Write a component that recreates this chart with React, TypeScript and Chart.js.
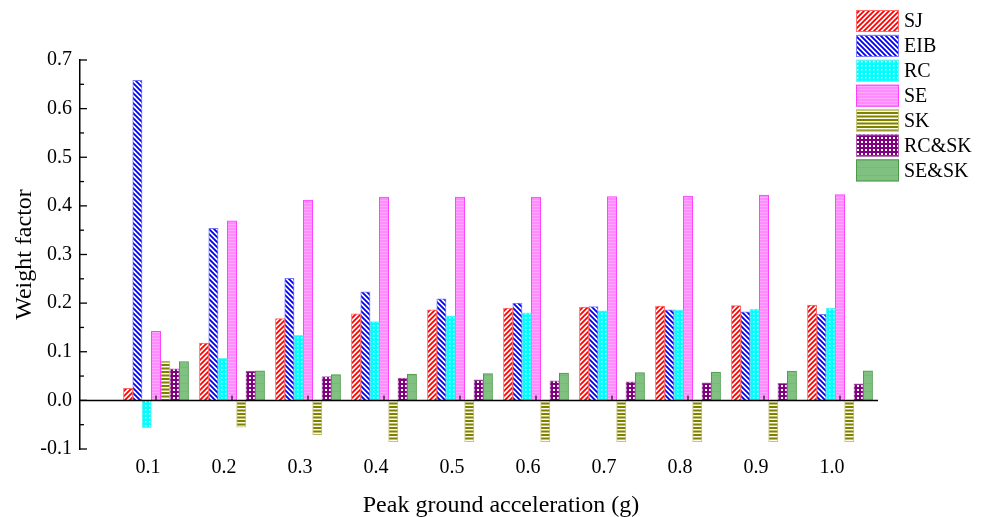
import React, { useEffect, useRef } from "react";
import { Chart, registerables } from "chart.js";

Chart.register(...registerables);

const categories = ["0.1", "0.2", "0.3", "0.4", "0.5", "0.6", "0.7", "0.8", "0.9", "1.0"];
const seriesNames = ["SJ", "EIB", "RC", "SE", "SK", "RC&SK", "SE&SK"];
const sjValues = [0.025, 0.118, 0.168, 0.178, 0.186, 0.19, 0.192, 0.194, 0.195, 0.196];
const eibValues = [0.658, 0.354, 0.251, 0.223, 0.209, 0.2, 0.193, 0.186, 0.182, 0.177];
const rcValues = [-0.056, 0.087, 0.134, 0.162, 0.174, 0.18, 0.184, 0.186, 0.188, 0.19];
const seValues = [0.142, 0.369, 0.412, 0.418, 0.418, 0.418, 0.419, 0.42, 0.422, 0.423];
const skValues = [0.081, -0.055, -0.071, -0.085, -0.085, -0.085, -0.085, -0.085, -0.085, -0.085];
const rcskValues = [0.065, 0.06, 0.049, 0.046, 0.042, 0.04, 0.038, 0.036, 0.035, 0.034];
const seskValues = [0.08, 0.061, 0.053, 0.054, 0.055, 0.056, 0.057, 0.058, 0.06, 0.061];
const yTickValues = [-0.1, 0, 0.1, 0.2, 0.3, 0.4, 0.5, 0.6, 0.7];

const FONT = "'Liberation Serif', 'Times New Roman', serif";

function makePattern(w: number, h: number, draw: (c: CanvasRenderingContext2D) => void) {
  const cv = document.createElement("canvas");
  cv.width = w;
  cv.height = h;
  const c = cv.getContext("2d")!;
  draw(c);
  const ctx = document.createElement("canvas").getContext("2d")!;
  return ctx.createPattern(cv, "repeat")!;
}

function buildStyles() {
  const sj = makePattern(5, 5, (c) => {
    c.fillStyle = "#ffffff";
    c.fillRect(0, 0, 5, 5);
    c.strokeStyle = "#ff0000";
    c.lineWidth = 1.8;
    c.beginPath();
    c.moveTo(-1, 6); c.lineTo(6, -1);
    c.moveTo(-1, 1); c.lineTo(1, -1);
    c.moveTo(4, 6); c.lineTo(6, 4);
    c.stroke();
  });
  const eib = makePattern(5, 5, (c) => {
    c.fillStyle = "#ffffff";
    c.fillRect(0, 0, 5, 5);
    c.strokeStyle = "#0000ee";
    c.lineWidth = 1.8;
    c.beginPath();
    c.moveTo(-1, -1); c.lineTo(6, 6);
    c.moveTo(4, -1); c.lineTo(6, 1);
    c.moveTo(-1, 4); c.lineTo(1, 6);
    c.stroke();
  });
  const rc = makePattern(4, 4, (c) => {
    c.fillStyle = "#00ffff";
    c.fillRect(0, 0, 4, 4);
    c.fillStyle = "#ffffff";
    c.fillRect(1, 1, 1.5, 1.5);
  });
  const se = makePattern(4, 3, (c) => {
    c.fillStyle = "#ff8cff";
    c.fillRect(0, 0, 4, 3);
    c.fillStyle = "#ffa8ff";
    c.fillRect(0, 2, 4, 1);
  });
  const sk = makePattern(4, 7, (c) => {
    const rows = ["#808000", "#808000", "#fcfcee", "#bebe77", "#808000", "#bebe77", "#fcfcee"];
    rows.forEach((col, r) => {
      c.fillStyle = col;
      c.fillRect(0, r, 4, 1);
    });
  });
  const rcsk = makePattern(4, 4, (c) => {
    c.fillStyle = "#800080";
    c.fillRect(0, 0, 4, 4);
    c.fillStyle = "#ffffff";
    c.fillRect(1, 1, 2, 2);
  });
  const sesk = makePattern(8, 8, (c) => {
    c.fillStyle = "#80c080";
    c.fillRect(0, 0, 8, 8);
    c.fillStyle = "#78b878";
    c.fillRect(0, 7, 8, 1);
  });
  return {
    fills: [sj, eib, rc, se, sk, rcsk, sesk],
    borders: ["#ff6a6a", "#7a7aff", "#6ff2f2", "#ff40ff", "#c6c67a", "#a860a8", "#4a9a4a"],
  };
}

const decorPlugin = {
  id: "decor",
  afterDatasetsDraw(chart: any) {
    const { ctx, chartArea, scales } = chart;
    const xs = scales.x;
    const ys = scales.y;
    ctx.save();
    const y0 = ys.getPixelForValue(0);
    ctx.strokeStyle = "#000";
    ctx.lineWidth = 1.5;
    ctx.beginPath();
    ctx.moveTo(chartArea.left, y0);
    ctx.lineTo(chartArea.right, y0);
    ctx.stroke();
    ctx.strokeStyle = "#2a1a2a";
    ctx.lineWidth = 1.3;
    categories.forEach((c) => {
      const px = xs.getPixelForValue(parseFloat(c));
      ctx.beginPath();
      ctx.moveTo(px, y0);
      ctx.lineTo(px, y0 - 5);
      ctx.stroke();
    });
    ctx.strokeStyle = "#000";
    ctx.lineWidth = 1.3;
    yTickValues.forEach((v, i) => {
      const py = ys.getPixelForValue(v);
      ctx.beginPath();
      ctx.moveTo(chartArea.left, py);
      ctx.lineTo(chartArea.left + 7, py);
      ctx.stroke();
      if (i < yTickValues.length - 1) {
        const pm = ys.getPixelForValue(v + 0.05);
        ctx.beginPath();
        ctx.moveTo(chartArea.left, pm);
        ctx.lineTo(chartArea.left + 4, pm);
        ctx.stroke();
      }
    });
    ctx.restore();
  },
  afterDraw(chart: any) {
    const { ctx } = chart;
    ctx.save();
    // legend
    ctx.font = `20px ${FONT}`;
    ctx.textBaseline = "middle";
    ctx.textAlign = "left";
    chart.data.datasets.forEach((ds: any, i: number) => {
      const top = 10 + i * 24.9;
      ctx.fillStyle = ds.backgroundColor;
      ctx.fillRect(856, top, 43, 22);
      ctx.strokeStyle = ds.borderColor;
      ctx.lineWidth = 1;
      ctx.strokeRect(856.5, top + 0.5, 42, 21);
      ctx.fillStyle = "#000";
      ctx.fillText(ds.label, 904, top + 12);
    });
    // x title
    ctx.font = `24px ${FONT}`;
    ctx.textAlign = "center";
    ctx.textBaseline = "alphabetic";
    ctx.fillStyle = "#000";
    ctx.fillText("Peak ground acceleration (g)", 501, 512);
    ctx.restore();
  },
};

export default function App() {
  const ref = useRef<HTMLCanvasElement | null>(null);
  useEffect(() => {
    if (!ref.current) return;
    Chart.defaults.font.family = FONT;
    Chart.defaults.color = "#000";
    const { fills, borders } = buildStyles();
    const all = [sjValues, eibValues, rcValues, seValues, skValues, rcskValues, seskValues];
    const datasets = all.map((vals, i) => ({
      label: seriesNames[i],
      data: categories.map((c, j) => ({ x: parseFloat(c), y: vals[j] })),
      backgroundColor: fills[i],
      borderColor: borders[i],
      borderWidth: 1,
      barThickness: 9.3,
    }));
    const chart = new Chart(ref.current, {
      type: "bar",
      data: { datasets } as any,
      options: {
        animation: false,
        responsive: false,
        layout: { padding: { top: 60, right: 108, left: 0, bottom: 0 } },
        plugins: { legend: { display: false }, tooltip: { enabled: false } },
        scales: {
          x: {
            type: "linear",
            min: 0,
            max: 1.05,
            offset: false,
            grid: { display: false, drawTicks: false, offset: false },
            border: { display: false },
            afterBuildTicks: (axis: any) => {
              axis.ticks = categories.map((c) => ({ value: parseFloat(c) }));
            },
            afterFit: (scale: any) => {
              scale.height = 68;
            },
            ticks: {
              autoSkip: false,
              maxRotation: 0,
              padding: 7,
              labelOffset: -8,
              font: { size: 20, family: FONT },
              color: "#000",
              callback: (_v: any, i: number) => categories[i],
            },
          },
          y: {
            min: -0.1,
            max: 0.7,
            grid: { display: false, drawTicks: false },
            border: { display: true, color: "#000", width: 1.5 },
            afterBuildTicks: (axis: any) => {
              axis.ticks = yTickValues.map((v) => ({ value: v }));
            },
            afterFit: (scale: any) => {
              scale.width = 80;
            },
            ticks: {
              padding: 8,
              font: { size: 20, family: FONT },
              color: "#000",
              callback: (v: any) => Number(v).toFixed(1),
            },
            title: {
              display: true,
              text: "Weight factor",
              font: { size: 24, family: FONT },
              color: "#000",
              padding: { top: 10, bottom: 0 },
            },
          },
        },
      } as any,
      plugins: [decorPlugin],
    });
    return () => chart.destroy();
  }, []);
  return (
    <div style={{ position: "absolute", left: 0, top: 0, width: 986, height: 517, background: "#fff" }}>
      <canvas ref={ref} width={986} height={517} style={{ display: "block" }} />
    </div>
  );
}
